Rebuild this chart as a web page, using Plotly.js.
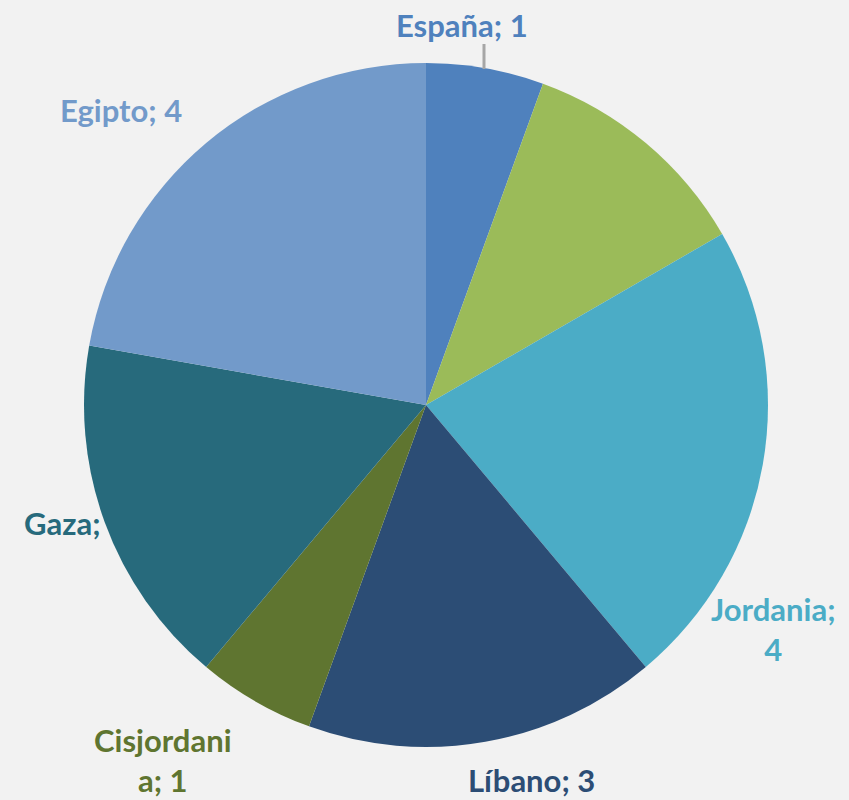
<!DOCTYPE html>
<html><head><meta charset="utf-8">
<script src="https://cdn.plot.ly/plotly-3.0.1.min.js"></script>
<style>html,body{margin:0;padding:0;background:#F2F2F2;}#c{width:849px;height:800px;}</style>
</head><body><div id="c"></div>
<script>
const categories = ["España", "(sin etiqueta)", "Jordania", "Líbano", "Cisjordania", "Gaza", "Egipto"];
const values = [1, 2, 4, 3, 1, 3, 4];
const colors = ["#4F81BD", "#9BBB59", "#4BACC6", "#2C4D75", "#5F7530", "#276A7C", "#729ACA"];
// label text as shown in the picture (green slice has none, Gaza's value is hidden, wrapped like the original)
const labelTexts = ["España; 1", "", "Jordania;<br>4", "Líbano; 3", "Cisjordani<br>a; 1", "Gaza;", "Egipto; 4"];
const labelPos = [[462,25],null,[773,629],[531,780],[163,760],[62,523],[121,110]];

const W = 849, H = 800, cx = 426, cy = 405, R = 342;
const annotations = [];
labelTexts.forEach((t, i) => {
  if (!t || !labelPos[i]) return;
  annotations.push({
    xref: 'paper', yref: 'paper', x: labelPos[i][0] / W, y: 1 - labelPos[i][1] / H,
    text: '<b>' + t + '</b>', showarrow: false, xanchor: 'center', yanchor: 'middle',
    font: {family: 'Lato, "Noto Sans", sans-serif', size: 31, color: colors[i]},
    align: 'center'
  });
});

const data = [{
  type: 'pie', labels: categories, values: values, sort: false, direction: 'clockwise', rotation: 0,
  marker: {colors: colors, line: {width: 0}}, textinfo: 'none', hoverinfo: 'label+value',
  domain: {x: [(cx - R) / W, (cx + R) / W], y: [1 - (cy + R) / H, 1 - (cy - R) / H]}
}];
const layout = {
  width: W, height: H, margin: {l: 0, r: 0, t: 0, b: 0},
  paper_bgcolor: '#F2F2F2', plot_bgcolor: '#F2F2F2', showlegend: false,
  annotations: annotations,
  shapes: [{type: 'line', xref: 'paper', yref: 'paper', x0: 484 / W, x1: 484 / W, y0: 1 - 44 / H, y1: 1 - 69 / H,
            line: {color: '#A6A6A6', width: 3}}]
};
Plotly.newPlot('c', data, layout, {displayModeBar: false, staticPlot: true});
</script></body></html>
